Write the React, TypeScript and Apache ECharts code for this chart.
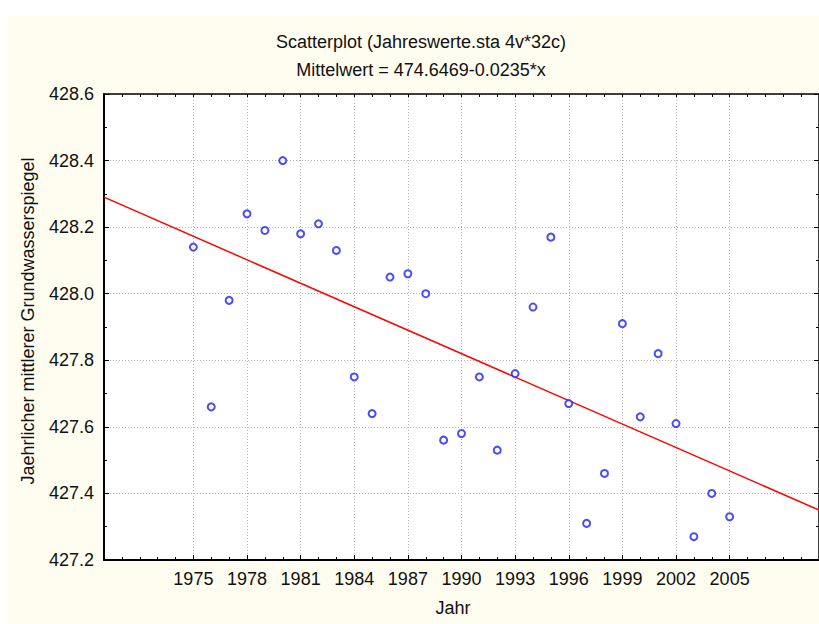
import React, { useEffect, useRef } from "react";
import * as echarts from "echarts";

// ---- data ----
const years = [
  1975, 1976, 1977, 1978, 1979, 1980, 1981, 1982, 1983, 1984, 1985, 1986, 1987, 1988, 1989, 1990,
  1991, 1992, 1993, 1994, 1995, 1996, 1997, 1998, 1999, 2000, 2001, 2002, 2003, 2004, 2005,
];
const levels = [
  428.14, 427.66, 427.98, 428.24, 428.19, 428.4, 428.18, 428.21, 428.13, 427.75, 427.64, 428.05,
  428.06, 428.0, 427.56, 427.58, 427.75, 427.53, 427.76, 427.96, 428.17, 427.67, 427.31, 427.46,
  427.91, 427.63, 427.82, 427.61, 427.27, 427.4, 427.33,
];
const majorYears = [1975, 1978, 1981, 1984, 1987, 1990, 1993, 1996, 1999, 2002, 2005];
const fitYears = [1970, 2010];
const fitValues = [428.29, 427.35];

const titleLine1 = "Scatterplot (Jahreswerte.sta 4v*32c)";
const titleLine2 = "Mittelwert = 474.6469-0.0235*x";
const xName = "Jahr";
const yName = "Jaehrlicher mittlerer Grundwasserspiegel";

const FONT = '"Liberation Sans", Arial, Helvetica, sans-serif';

export default function App() {
  const ref = useRef<HTMLDivElement>(null);

  useEffect(() => {
    document.body.style.overflow = "hidden";
    if (!ref.current) return;
    const chart = echarts.init(ref.current, undefined, { renderer: "svg" });

    const grid = { left: 96, top: 78, width: 717.6, height: 466 };
    const gridLine = { show: true, lineStyle: { color: "#b4b4b4", width: 1, type: [1, 2] as any } };
    const black = "#000";

    chart.setOption({
      animation: false,
      backgroundColor: "#fffcf0",
      grid: { ...grid, show: true, backgroundColor: "#ffffff", borderWidth: 0 },
      xAxis: [
        {
          type: "value",
          min: 1970,
          max: 2010,
          position: "bottom",
          axisLine: { show: true, lineStyle: { color: black, width: 2 } },
          axisTick: { show: true, inside: true, length: 5, customValues: majorYears, lineStyle: { color: black } },
          axisLabel: {
            customValues: majorYears,
            fontSize: 18,
            fontFamily: FONT,
            color: "#111",
            margin: 10,
            formatter: (v: number) => String(v),
          },
          splitLine: gridLine,
        },
        {
          type: "value",
          min: 1970,
          max: 2010,
          interval: 1,
          position: "bottom",
          axisLine: { show: false },
          axisTick: { show: true, inside: true, length: 3, lineStyle: { color: black } },
          axisLabel: { show: false },
          splitLine: { show: false },
        },
        {
          type: "value",
          min: 1970,
          max: 2010,
          interval: 1,
          position: "top",
          axisLine: { show: true, lineStyle: { color: black, width: 1.5 } },
          axisTick: { show: true, inside: true, length: 3, lineStyle: { color: black } },
          axisLabel: { show: false },
          splitLine: { show: false },
        },
      ],
      yAxis: [
        {
          type: "value",
          min: 427.2,
          max: 428.6,
          interval: 0.2,
          position: "left",
          axisLine: { show: true, lineStyle: { color: black, width: 2 } },
          axisTick: { show: true, inside: true, length: 5, lineStyle: { color: black } },
          minorTick: { show: true, splitNumber: 2, length: 3, lineStyle: { color: black } },
          axisLabel: {
            fontSize: 18,
            fontFamily: FONT,
            color: "#111",
            margin: 10,
            formatter: (v: number) => v.toFixed(1),
          },
          splitLine: gridLine,
        },
        {
          type: "value",
          min: 427.2,
          max: 428.6,
          interval: 0.2,
          position: "right",
          axisLine: { show: true, lineStyle: { color: black, width: 1.5 } },
          axisTick: { show: true, inside: true, length: 5, lineStyle: { color: black } },
          minorTick: { show: true, splitNumber: 2, length: 3, lineStyle: { color: black } },
          axisLabel: { show: false },
          splitLine: { show: false },
        },
      ],
      series: [
        {
          type: "line",
          xAxisIndex: 0,
          yAxisIndex: 0,
          data: fitYears.map((x, i) => [x, fitValues[i]]),
          showSymbol: false,
          symbol: "none",
          lineStyle: { color: "#ff0000", width: 1.5 },
          z: 2,
          silent: true,
        },
        {
          type: "scatter",
          xAxisIndex: 0,
          yAxisIndex: 0,
          data: years.map((x, i) => [x, levels[i]]),
          symbol: "emptyCircle",
          symbolSize: 7,
          itemStyle: { color: "#1f1fff", borderColor: "#1f1fff", borderWidth: 1.8 },
          z: 3,
        },
      ],
      graphic: [
        {
          type: "text",
          x: 413,
          y: 26,
          style: { text: titleLine1, fontSize: 18, fontFamily: FONT, fill: "#111", align: "center", verticalAlign: "middle" },
        },
        {
          type: "text",
          x: 413,
          y: 54,
          style: { text: titleLine2, fontSize: 18, fontFamily: FONT, fill: "#111", align: "center", verticalAlign: "middle" },
        },
        {
          type: "text",
          x: 445,
          y: 592,
          style: { text: xName, fontSize: 18, fontFamily: FONT, fill: "#111", align: "center", verticalAlign: "middle" },
        },
        {
          type: "text",
          x: 20,
          y: 305,
          rotation: Math.PI / 2,
          style: { text: yName, fontSize: 18, fontFamily: FONT, fill: "#111", align: "center", verticalAlign: "middle" },
        },
      ],
    });

    return () => chart.dispose();
  }, []);

  return (
    <div
      ref={ref}
      style={{ position: "absolute", left: 8, top: 16, width: 811, height: 608 }}
    />
  );
}
